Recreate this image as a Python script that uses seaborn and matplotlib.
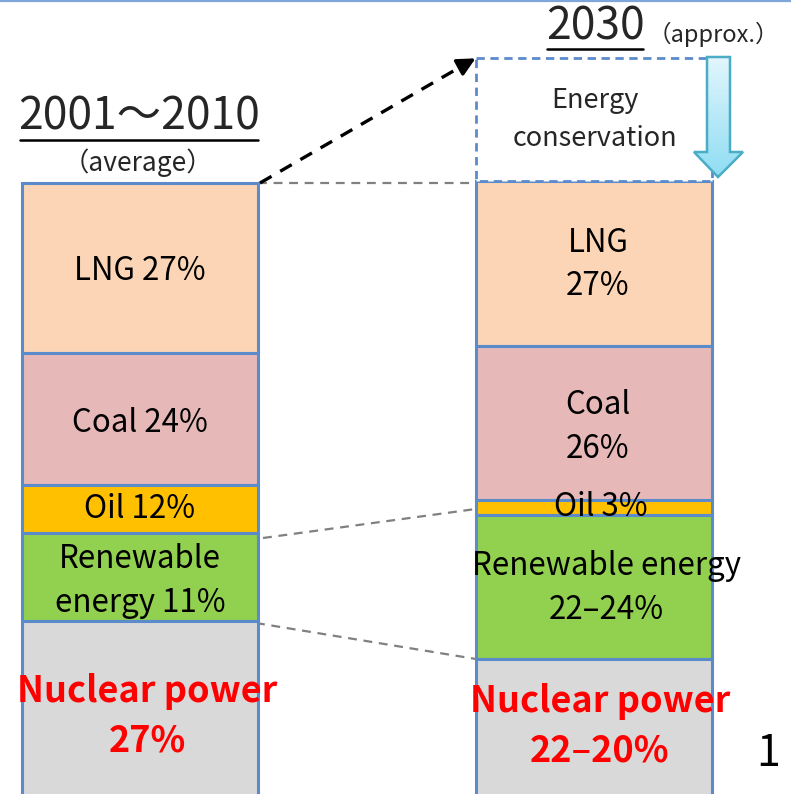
import numpy as np
import matplotlib
matplotlib.use("Agg")
import matplotlib.pyplot as plt
from matplotlib.patches import Polygon
import seaborn as sns

# segment heights (drawing units, top of bar downward)
sources = ["LNG", "Coal", "Oil", "Renewable", "Nuclear"]
heights_2010 = [170, 132, 48, 88, 190]
heights_2030 = [165, 154, 15, 144, 140]
conservation_2030 = 123
bar_tops = [183, 181]
bar_centers = [140, 594]
bar_width = 236

labels_2010 = ["LNG 27%", "Coal 24%", "Oil 12%", "Renewable\nenergy 11%", "Nuclear power\n27%"]
labels_2030 = ["LNG\n27%", "Coal\n26%", "Oil 3%", "Renewable energy\n22\u201324%", "Nuclear power\n22\u201320%"]
label_dx_2010 = [0, 0, 0, 0, 7]
label_dy_2010 = [3, 4, 0, 4, 0]
label_dx_2030 = [4, 4, 7, 12, 6]
label_dy_2030 = [1, 4, 0, 1, -3]

colors = ["#FBD5B5", "#E6B9B8", "#FFC000", "#92D050", "#D9D9D9"]
edge = "#5B8BCB"

sns.set_theme(style="white")
plt.rcParams["font.family"] = ["Noto Sans CJK JP", "DejaVu Sans"]

fig = plt.figure(figsize=(7.91, 7.94), dpi=100)
ax = fig.add_axes([0, 0, 1, 1])
ax.set_xlim(0, 791)
ax.set_ylim(794, 0)
ax.axis("off")

ax.axhline(0.8, color="#7EA6D8", lw=1.6)


def stacked(center, top, heights, labels, dxs, dys):
    bottoms = top + np.concatenate([[0], np.cumsum(heights)[:-1]])
    ax.bar([center] * len(heights), heights, bottom=bottoms, width=bar_width,
           color=colors, edgecolor=edge, linewidth=2.2, zorder=2)
    for i, (b, h, lab) in enumerate(zip(bottoms, heights, labels)):
        nuclear = sources[i] == "Nuclear"
        ax.text(center + dxs[i], b + h / 2 + dys[i], lab, ha="center", va="center",
                fontsize=26 if nuclear else 22.5, linespacing=1.42 if nuclear else 1.45,
                color="#FF0000" if nuclear else "black",
                fontweight="bold" if nuclear else "normal", zorder=5)
    return bottoms


b10 = stacked(bar_centers[0], bar_tops[0], heights_2010, labels_2010, label_dx_2010, label_dy_2010)
b30 = stacked(bar_centers[1], bar_tops[1], heights_2030, labels_2030, label_dx_2030, label_dy_2030)

# energy conservation box (dashed)
ax.bar(bar_centers[1], conservation_2030, bottom=bar_tops[1] - conservation_2030, width=bar_width,
       color="white", edgecolor=edge, linewidth=2, linestyle=(0, (3, 2)), zorder=2)
ax.text(bar_centers[1] + 1, bar_tops[1] - conservation_2030 / 2, "Energy\nconservation",
        ha="center", va="center", fontsize=19.5, linespacing=1.5, zorder=5)

# down arrow with light gradient
arrow = Polygon([(707, 57), (730, 57), (730, 152), (743, 152), (718, 177), (694, 152), (707, 152)],
                closed=True, facecolor="none", edgecolor="#4BACC6", lw=1.8, zorder=4)
ax.add_patch(arrow)
grad = np.linspace(0, 1, 100).reshape(-1, 1)
cmap = matplotlib.colors.LinearSegmentedColormap.from_list("c", ["#E2F6FC", "#8FDDF3"])
im = ax.imshow(grad, cmap=cmap, extent=(693, 744, 177, 56), aspect="auto", zorder=3)
im.set_clip_path(arrow)

# connector lines between bars
ax.plot([258, 476], [183, 183], color="gray", ls=(0, (4, 3)), lw=1.6, zorder=1)
ax.plot([263, 483], [538, 508], color="gray", ls=(0, (4, 3)), lw=1.6, zorder=1)
ax.plot([256, 476], [623, 659], color="gray", ls=(0, (4, 3)), lw=1.6, zorder=1)

# dashed black arrow to the 2030 box
ax.plot([260, 462], [183, 66], color="black", ls=(0, (4, 3)), lw=2.4, zorder=6)
ax.annotate("", xy=(478, 57), xytext=(458, 68),
            arrowprops=dict(arrowstyle="-|>,head_length=0.9,head_width=0.45", color="black", lw=2.4),
            zorder=6)

# headings
ax.text(139, 117, "2001\uff5e2010", ha="center", va="center", fontsize=32)
ax.plot([20, 258], [140, 140], color="black", lw=1.8)
ax.text(138, 163, "\uff08average\uff09", ha="center", va="center", fontsize=19)

ax.text(595, 27, "2030", ha="center", va="center", fontsize=32)
ax.plot([547, 643], [49, 49], color="black", lw=1.8)
ax.text(713, 34, "\uff08approx.\uff09", ha="center", va="center", fontsize=17)

ax.text(768, 754, "1", ha="center", va="center", fontsize=31, color="black")

plt.savefig("out.png", dpi=100)
